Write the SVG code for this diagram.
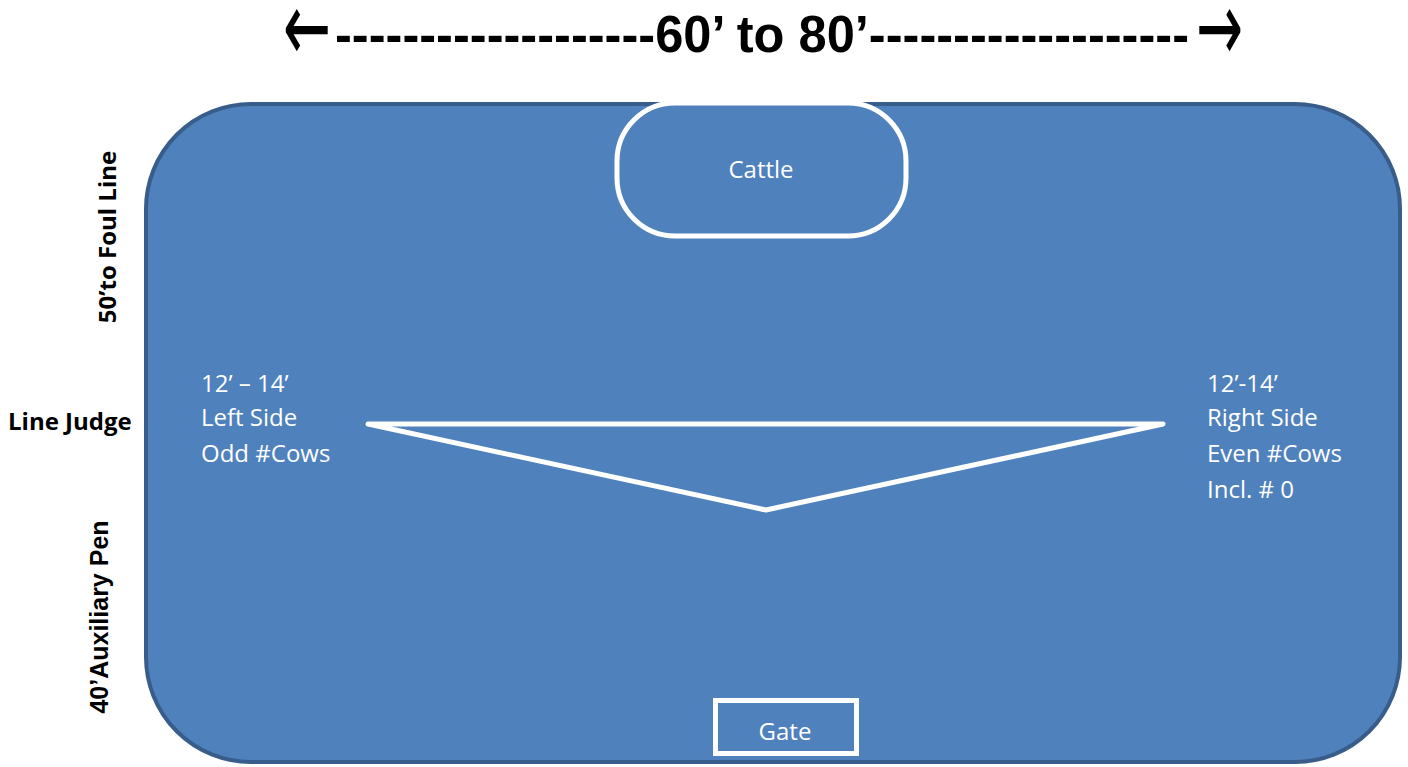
<svg xmlns="http://www.w3.org/2000/svg" width="1408" height="767" viewBox="0 0 1408 767">
<style>
.field{fill:#4f81bd;stroke:#385d8a;stroke-width:4}
.shape{fill:#4f81bd;stroke:#ffffff;stroke-width:5}
.wt{font-family:"Open Sans","Noto Sans",sans-serif;font-size:24px;fill:#ffffff}
.lbl{font-family:"Open Sans","Noto Sans",sans-serif;font-weight:bold;font-size:24px;fill:#000000}
.lbl2{font-family:"Liberation Sans",Arial,sans-serif;font-weight:bold;font-size:25px;fill:#000000}
.title{font-family:"Liberation Sans",Arial,sans-serif;font-weight:bold;font-size:52px;fill:#000000}
.arrow{font-family:"DejaVu Sans",sans-serif;font-size:58px;fill:#000000}
</style>
<rect width="1408" height="767" fill="#ffffff"/>
<g id="title">
<text class="arrow" transform="translate(0,42) scale(1,1.7)" x="283" y="11" textLength="48" lengthAdjust="spacingAndGlyphs">←</text>
<text class="title" x="335" y="52" textLength="854" lengthAdjust="spacingAndGlyphs">-------------------60’ to 80’-------------------</text>
<text class="arrow" transform="translate(0,42) scale(1,1.7)" x="1196" y="11" textLength="47" lengthAdjust="spacingAndGlyphs">→</text>
</g>
<g id="field">
<rect class="field" x="146" y="104" width="1254" height="658" rx="105" ry="105"/>
</g>
<g id="side-labels">
<text class="lbl" transform="translate(116,237) rotate(-90)" text-anchor="middle">50’to Foul Line</text>
<text class="lbl" x="8" y="430">Line Judge</text>
<text class="lbl2" transform="translate(108,617) rotate(-90)" text-anchor="middle">40’Auxiliary Pen</text>
</g>
<g id="cattle">
<rect class="shape" x="617" y="103" width="289" height="133" rx="58" ry="58"/>
<text class="wt" x="761" y="178" text-anchor="middle">Cattle</text>
</g>
<g id="connectors">
<polygon points="368,424 1163,424 766,510" fill="none" stroke="#ffffff" stroke-width="5" stroke-linejoin="round"/>
</g>
<g id="left-side">
<text class="wt" x="201" y="392">12’ – 14’</text>
<text class="wt" x="201" y="426">Left Side</text>
<text class="wt" x="201" y="462">Odd #Cows</text>
</g>
<g id="right-side">
<text class="wt" x="1207" y="392">12’-14’</text>
<text class="wt" x="1207" y="426">Right Side</text>
<text class="wt" x="1207" y="462">Even #Cows</text>
<text class="wt" x="1207" y="498">Incl. # 0</text>
</g>
<g id="gate">
<rect class="shape" x="715.5" y="700.5" width="141" height="53"/>
<text class="wt" x="785" y="740" text-anchor="middle">Gate</text>
</g>
</svg>
